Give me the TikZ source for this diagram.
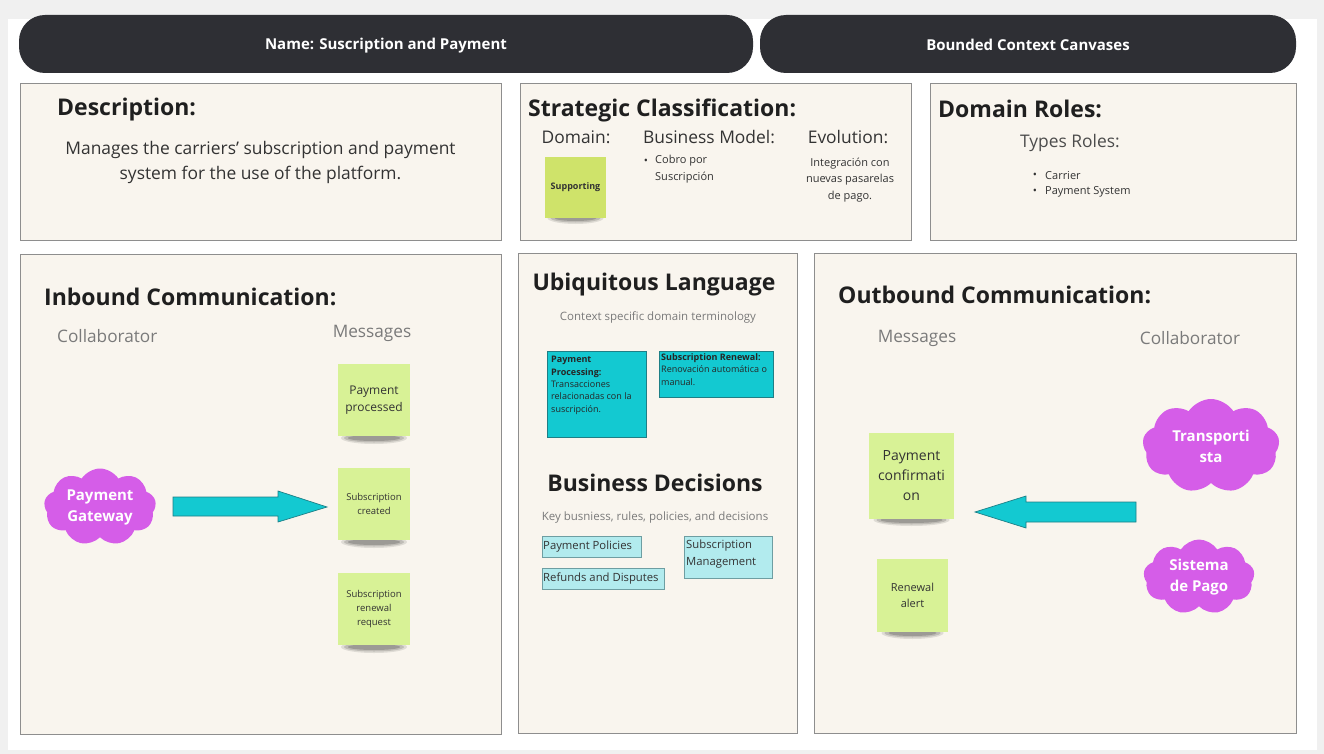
\documentclass[tikz,border=0pt]{standalone}
\usepackage{fontspec}
\setmainfont{Open Sans}
\usetikzlibrary{shapes.symbols,calc}
\definecolor{bggray}{HTML}{F0F0F0}
\definecolor{pilldark}{HTML}{2E2F34}
\definecolor{cream}{HTML}{F9F5EE}
\definecolor{panelline}{HTML}{8E8E8E}
\definecolor{stickyg}{HTML}{D8F296}
\definecolor{supportg}{HTML}{CFE36A}
\definecolor{tealc}{HTML}{13C9D1}
\definecolor{tealline}{HTML}{1E7F86}
\definecolor{lcyan}{HTML}{B2EBEE}
\definecolor{lcyanline}{HTML}{6E9EA2}
\definecolor{purplec}{HTML}{D55DE8}
\definecolor{softgray}{HTML}{7A7A7A}
\definecolor{bodytxt}{HTML}{333333}
\newcommand{\fsz}[2]{\fontsize{#1}{#2}\selectfont}
\newcommand{\stickshadow}[3]{%
  \fill[black,opacity=0.10] (#1,#2) ellipse [x radius=#3, y radius=6];
  \fill[black,opacity=0.14] (#1,#2) ellipse [x radius=#3-3, y radius=4.5];
  \fill[black,opacity=0.18] (#1,#2) ellipse [x radius=#3-7, y radius=3];}
\begin{document}
\begin{tikzpicture}[x=1pt,y=-1pt,
  pill/.style={fill=pilldark,rounded corners=26pt,inner sep=0},
  pilltext/.style={text=white,font=\fsz{15}{18}\bfseries,inner sep=0},
  panel/.style={draw=panelline,fill=cream,line width=0.8pt,inner sep=0,anchor=north west},
  ttl/.style={font=\fsz{23}{28}\bfseries,text=black!88,inner sep=0},
  body/.style={font=\fsz{17.4}{25},text=bodytxt,inner sep=0,align=center},
  colhead/.style={font=\fsz{17.2}{20},text=softgray,inner sep=0},
  small/.style={font=\fsz{11}{16.5},text=bodytxt,inner sep=0},
  sticky/.style={fill=stickyg,inner sep=0,align=center,text=black!80},
  cloudn/.style={cloud,cloud puffs=9,cloud puff arc=115,fill=purplec,inner sep=0},
  cloudtext/.style={text=white,font=\fsz{15}{21}\bfseries,align=center,inner sep=0},
  termbox/.style={draw=tealline,fill=tealc,line width=0.6pt,inner sep=0,anchor=north west},
  decbox/.style={draw=lcyanline,fill=lcyan,line width=0.7pt,inner sep=0,anchor=north west},
  blockarrow/.style={fill=tealc,draw=tealline,line width=0.7pt,line join=miter}
]
\useasboundingbox (0,0) rectangle (1324,754);
\fill[bggray] (0,0) rectangle (1324,754);
\fill[white] (8,19) rectangle (1317,750);

% header bars
\node[pill,minimum width=734pt,minimum height=58pt] (namebar) at (386,44) {};
\node[pilltext] (namet) at (386,45.5) {Name: Suscription and Payment};
\node[pill,minimum width=536pt,minimum height=58pt] (bcbar) at (1028,44) {};
\node[pilltext] (bct) at (1028,45) {Bounded Context Canvases};

% panels
\node[panel,minimum width=481pt,minimum height=157pt] (desc) at (20,83) {};
\node[panel,minimum width=391pt,minimum height=157pt] (strat) at (520,83) {};
\node[panel,minimum width=366pt,minimum height=157pt] (roles) at (930,83) {};
\node[panel,minimum width=481pt,minimum height=480pt] (inb) at (20,254) {};
\node[panel,minimum width=279pt,minimum height=480pt] (ubi) at (518,253) {};
\node[panel,minimum width=482pt,minimum height=480pt] (outb) at (814,253) {};

% description
\node[ttl,anchor=west] (desct) at (57,110) {Description:};
\node[body] (descb) at (260.5,162) {Manages the carriers' subscription and payment\\system for the use of the platform.};

% strategic classification
\node[ttl,anchor=west] (stratt) at (528,110) {Strategic Classification:};
\node[body,text=bodytxt] (domh) at (576,137) {Domain:};
\node[body,text=bodytxt] (bmh) at (709,137) {Business Model:};
\node[body,text=bodytxt] (evh) at (848,137) {Evolution:};
\stickshadow{575.5}{218}{28}
\node[sticky,fill=supportg,minimum width=61pt,minimum height=61pt,font=\fsz{9}{11}\bfseries] (supp) at (575.5,187.5) {Supporting};
\node[small,anchor=center] (bm1b) at (646,162) {•};
\node[small,anchor=north west,align=left] (bm1) at (655,155) {Cobro por\\Suscripción};
\node[small,align=center] (evt) at (850,180) {Integración con\\nuevas pasarelas\\de pago.};

% domain roles
\node[ttl,anchor=west] (rolest) at (938,109) {Domain Roles:};
\node[body,text=black!70] (typesr) at (1070,143) {Types Roles:};
\node[small] (r1b) at (1035,176) {•};
\node[small,anchor=west] (r1) at (1045,176) {Carrier};
\node[small] (r2b) at (1035,192) {•};
\node[small,anchor=west] (r2) at (1045,192) {Payment System};

% inbound
\node[ttl,anchor=west] (inbt) at (44,297) {Inbound Communication:};
\node[colhead,anchor=west] (incol) at (57,336) {Collaborator};
\node[colhead] (inmsg) at (372,333) {Messages};
\stickshadow{374}{438}{33}
\stickshadow{374}{542}{33}
\stickshadow{374}{647}{33}
\node[sticky,minimum width=72pt,minimum height=72pt,font=\fsz{12}{17}] (pp) at (374,400) {Payment\\processed};
\node[sticky,minimum width=72pt,minimum height=72pt,font=\fsz{9.5}{14}] (sc) at (374,504) {Subscription\\created};
\node[sticky,minimum width=72pt,minimum height=72pt,font=\fsz{9.5}{14}] (sr) at (374,609) {Subscription\\renewal\\request};
\node[cloudn,minimum width=112pt,minimum height=77pt] (pg) at (100,507) {};
\node[cloudtext] (pgt) at (pg.center) {Payment\\Gateway};
\draw[blockarrow] (173,497) -- (278,497) -- (278,491) -- (327,507) -- (278,522) -- (278,516) -- (173,516) -- cycle;

% ubiquitous language
\node[ttl] (ubit) at (654,285) {Ubiquitous Language};
\node[small,font=\fsz{11.5}{16},text=softgray] (ubis) at (658,317) {Context specific domain terminology};
\node[termbox,minimum width=99pt,minimum height=86pt] (tpp) at (547,351) {};
\node[anchor=north west,inner sep=0,align=left,font=\fsz{9}{12.4},text=black!85] (tppt) at (551,356) {\textbf{Payment}\\\textbf{Processing:}\\Transacciones\\relacionadas con la\\suscripción.};
\node[termbox,minimum width=114pt,minimum height=46pt] (tsr) at (659,351) {};
\node[anchor=north west,inner sep=0,align=left,font=\fsz{9}{12.8},text=black!85] (tsrt) at (661,353) {\textbf{Subscription Renewal:}\\Renovación automática o\\manual.};

% business decisions
\node[ttl] (bdt) at (655,483) {Business Decisions};
\node[small,font=\fsz{11.5}{16},text=softgray] (bds) at (655,518) {Key busniess, rules, policies, and decisions};
\node[decbox,minimum width=99pt,minimum height=21pt] (dpp) at (542,536) {};
\node[small,font=\fsz{11.3}{16},anchor=west,text=black!80] (dppt) at (543,546.5) {Payment Policies};
\node[decbox,minimum width=122pt,minimum height=21pt] (drd) at (542,568) {};
\node[small,font=\fsz{11.3}{16},anchor=west,text=black!80] (drdt) at (543,578.5) {Refunds and Disputes};
\node[decbox,minimum width=88pt,minimum height=42pt] (dsm) at (684,536) {};
\node[small,font=\fsz{11.3}{16.5},anchor=north west,align=left,text=black!80] (dsmt) at (686,540) {Subscription\\Management};

% outbound
\node[ttl,anchor=west] (outt) at (838,295) {Outbound Communication:};
\node[colhead] (outmsg) at (917,338) {Messages};
\node[colhead] (outcol) at (1190,338) {Collaborator};
\stickshadow{911.5}{520}{38}
\stickshadow{912.5}{633}{31}
\node[sticky,minimum width=85pt,minimum height=86pt,font=\fsz{14}{20}] (pc) at (911.5,476) {Payment\\confirmati\\on};
\node[sticky,minimum width=71pt,minimum height=73pt,font=\fsz{11}{16}] (ra) at (912.5,595.5) {Renewal\\alert};
\draw[blockarrow] (1136,502) -- (1026,502) -- (1026,496) -- (975,512) -- (1026,528) -- (1026,522) -- (1136,522) -- cycle;
\node[cloudn,minimum width=137pt,minimum height=94pt] (tr) at (1211,446) {};
\node[cloudtext] (trt) at (tr.center) {Transporti\\sta};
\node[cloudn,minimum width=111pt,minimum height=75pt] (sp) at (1199,577) {};
\node[cloudtext] (spt) at (sp.center) {Sistema\\de Pago};
\end{tikzpicture}
\end{document}
